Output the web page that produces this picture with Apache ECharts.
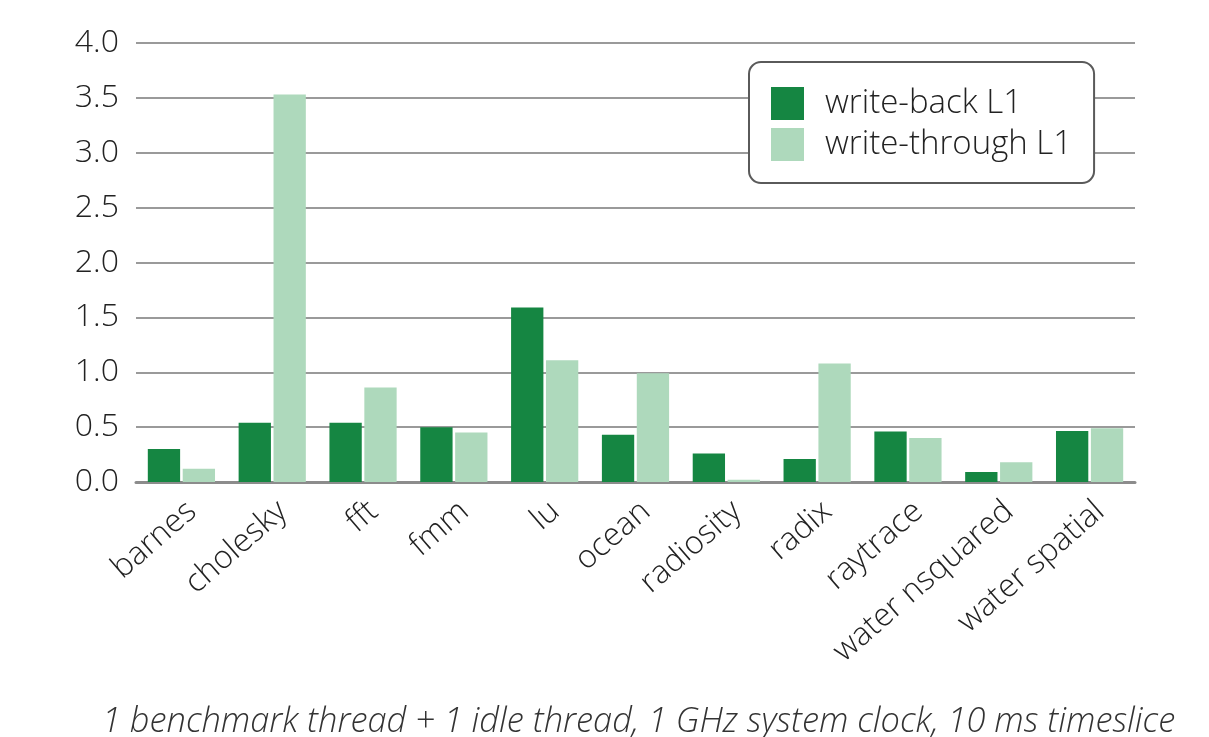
<!DOCTYPE html>
<html><head><meta charset="utf-8">
<script src="https://cdn.jsdelivr.net/npm/echarts@6/dist/echarts.min.js"></script>
<style>html,body{margin:0;padding:0;background:#fff}#c{width:1209px;height:737px}</style>
</head><body><div id="c"></div>
<script>
const categories = ['barnes','cholesky','fft','fmm','lu','ocean','radiosity','radix','raytrace','water nsquared','water spatial'];
const writeBack = [0.30,0.54,0.54,0.50,1.59,0.43,0.26,0.21,0.46,0.09,0.465];
const writeThrough = [0.12,3.53,0.86,0.45,1.11,0.99,0.02,1.08,0.40,0.18,0.49];
const yTicks = [0,0.5,1,1.5,2,2.5,3,3.5,4];
const seriesNames = ['write-back L1','write-through L1'];
const footnote = '1 benchmark thread + 1 idle thread, 1 GHz system clock, 10 ms timeslice';

const FONT = "'Open Sans', 'Noto Sans', sans-serif";
const chart = echarts.init(document.getElementById('c'));
chart.setOption({
  animation: false,
  textStyle: {fontFamily: FONT},
  grid: {left: 136, right: 74, top: 43, bottom: 255, containLabel: false},
  title: {
    text: footnote, left: 97, top: 698,
    textStyle: {fontFamily: FONT, fontStyle: 'italic', fontWeight: 300, fontSize: 34.4, color: '#333', lineHeight: 38}
  },
  legend: {
    orient: 'vertical', left: 749, top: 62,
    padding: [25, 22, 22, 22],
    backgroundColor: '#fff', borderColor: '#5a5a5a', borderWidth: 2, borderRadius: 12,
    itemWidth: 33, itemHeight: 33, itemGap: 8,
    icon: 'rect',
    data: seriesNames,
    textStyle: {fontFamily: FONT, fontWeight: 300, fontSize: 33, color: '#222', padding: [0,0,0,16]}
  },
  xAxis: {
    type: 'category', data: categories,
    axisLine: {lineStyle: {color: '#8c8c8c', width: 3}},
    axisTick: {show: false},
    axisLabel: {rotate: 41, fontFamily: FONT, fontWeight: 300, fontSize: 32, color: '#222', margin: 13, verticalAlign: 'top', interval: 0}
  },
  yAxis: {
    type: 'value', min: 0, max: 4, interval: 0.5,
    axisLine: {show: false}, axisTick: {show: false},
    splitLine: {lineStyle: {color: '#9a9a9a', width: 2}},
    axisLabel: {fontFamily: FONT, fontWeight: 300, fontSize: 32, color: '#222', margin: 17,
      formatter: v => yTicks.includes(v) ? v.toFixed(1) : ''}
  },
  series: [
    {name: seriesNames[0], type: 'bar', data: writeBack, itemStyle: {color: '#158642'}, barGap: '8%', barCategoryGap: '26%'},
    {name: seriesNames[1], type: 'bar', data: writeThrough, itemStyle: {color: '#aed9bc'}}
  ]
});
</script></body></html>
